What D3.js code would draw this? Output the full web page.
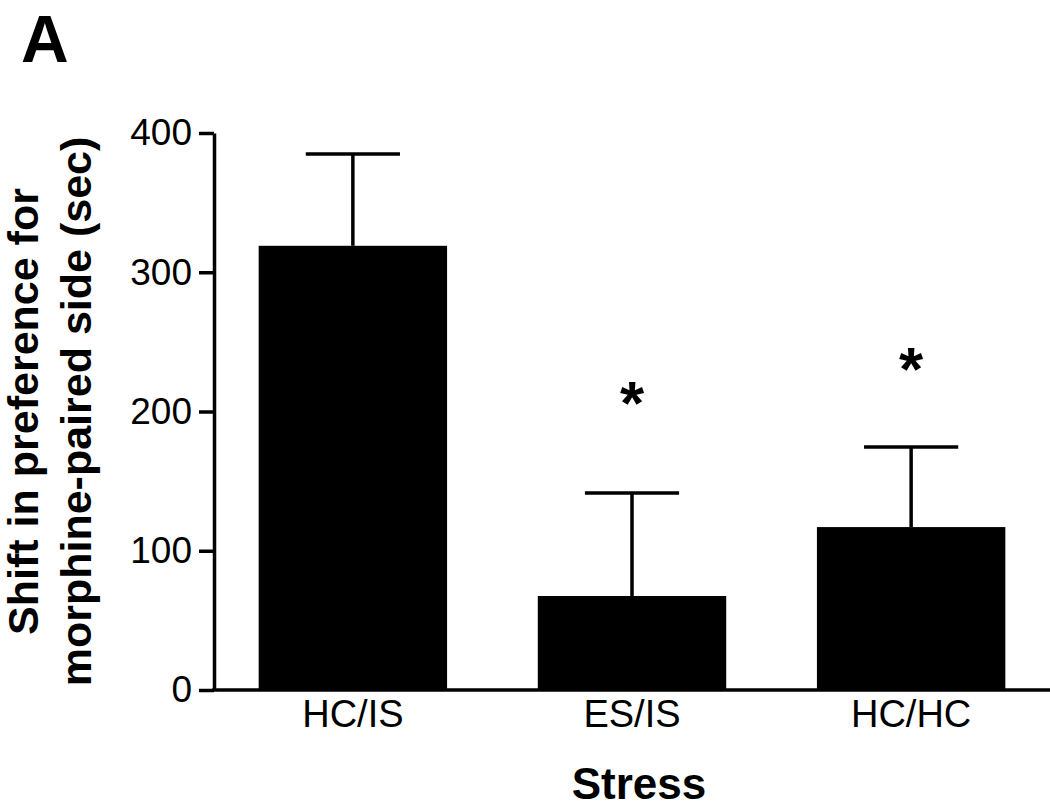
<!DOCTYPE html>
<html>
<head>
<meta charset="utf-8">
<script src="https://cdn.jsdelivr.net/npm/d3@7"></script>
<style>
  html, body { margin: 0; padding: 0; background: #fff; }
  svg { display: block; }
  text { font-family: "Liberation Sans", Arial, Helvetica, sans-serif; fill: #000; }
</style>
</head>
<body>
<script>
// ---- data ----
const categories = ["HC/IS", "ES/IS", "HC/HC"];
const means = [319, 67.5, 117];
const sems = [66, 74, 57.5];
const significant = [false, true, true];
const starValues = [null, 208, 232.5];
const yTicks = [0, 100, 200, 300, 400];
const panelLabel = "A";
const xTitle = "Stress";
const yTitleLines = ["Shift in preference for", "morphine-paired side (sec)"];

const W = 1050, H = 809;
const svg = d3.select("body").append("svg").attr("width", W).attr("height", H);

const y = d3.scaleLinear().domain([0, 400]).range([690, 133]);
const x = d3.scaleBand().domain(categories).range([214, 1050])
  .paddingInner(0.325).paddingOuter(0.16);

const data = categories.map((c, i) => ({ c, m: means[i], e: sems[i], sig: significant[i], sy: starValues[i] }));

// bars
svg.append("g").selectAll("rect").data(data).join("rect")
  .attr("x", d => x(d.c))
  .attr("y", d => y(d.m))
  .attr("width", x.bandwidth())
  .attr("height", d => y(0) - y(d.m))
  .attr("fill", "#000");

// error bars (upper only)
const eb = svg.append("g").attr("stroke", "#000").attr("stroke-width", 3.5);
eb.selectAll("line.v").data(data).join("line").attr("class", "v")
  .attr("x1", d => x(d.c) + x.bandwidth() / 2)
  .attr("x2", d => x(d.c) + x.bandwidth() / 2)
  .attr("y1", d => y(d.m))
  .attr("y2", d => y(d.m + d.e));
eb.selectAll("line.cap").data(data).join("line").attr("class", "cap")
  .attr("x1", d => x(d.c) + x.bandwidth() / 4)
  .attr("x2", d => x(d.c) + x.bandwidth() * 3 / 4)
  .attr("y1", d => y(d.m + d.e))
  .attr("y2", d => y(d.m + d.e));

// significance stars
svg.append("g").selectAll("text").data(data.filter(d => d.sig)).join("text")
  .attr("x", d => x(d.c) + x.bandwidth() / 2)
  .attr("y", d => y(d.sy) + 24)
  .attr("text-anchor", "middle")
  .attr("font-size", 62)
  .attr("font-weight", "bold")
  .text("*");

// y axis
const yAxis = d3.axisLeft(y).tickValues(yTicks).tickSize(15).tickSizeOuter(0).tickPadding(7);
const gy = svg.append("g").attr("transform", "translate(214,0)").call(yAxis);
gy.select(".domain").attr("stroke-width", 3.5);
gy.selectAll(".tick line").attr("stroke-width", 3.5);
gy.selectAll(".tick text").attr("font-size", 37)
  .attr("font-family", "'Liberation Sans', Arial, sans-serif").attr("fill", "#000");

// x axis baseline
svg.append("line")
  .attr("x1", x.range()[0] - 1.75).attr("x2", x.range()[1])
  .attr("y1", y(0)).attr("y2", y(0))
  .attr("stroke", "#000").attr("stroke-width", 3.5);

// x category labels
svg.append("g").selectAll("text").data(categories).join("text")
  .attr("x", d => x(d) + x.bandwidth() / 2)
  .attr("y", 727)
  .attr("text-anchor", "middle")
  .attr("font-size", 38)
  .text(d => d);

// x title
svg.append("text")
  .attr("x", 639).attr("y", 799)
  .attr("text-anchor", "middle")
  .attr("font-size", 44).attr("font-weight", "bold")
  .text(xTitle);

// y title (two lines, rotated)
const cy = (y(0) + y(400)) / 2;
const yt = svg.append("text")
  .attr("transform", `translate(38,${cy}) rotate(-90)`)
  .attr("text-anchor", "middle")
  .attr("font-size", 43).attr("font-weight", "bold");
yt.selectAll("tspan").data(yTitleLines).join("tspan")
  .attr("x", 0)
  .attr("dy", (d, i) => i === 0 ? 0 : 53)
  .text(d => d);

// panel label
svg.append("text")
  .attr("x", 21).attr("y", 62)
  .attr("font-size", 66).attr("font-weight", "bold")
  .text(panelLabel);
</script>
</body>
</html>
